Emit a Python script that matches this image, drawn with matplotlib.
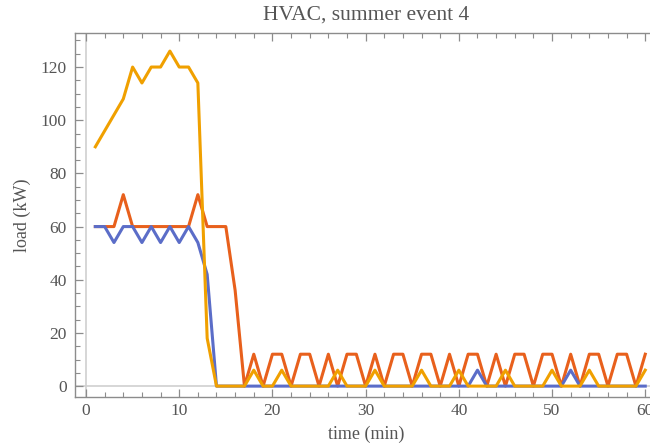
import numpy as np
import matplotlib
matplotlib.use('Agg')
import matplotlib.pyplot as plt
from matplotlib.ticker import MultipleLocator

# minutes 1..60
minutes = list(range(1, 61))

blue_kw = [60, 60, 54, 60, 60, 54, 60, 54, 60, 54, 60, 54, 42, 0, 0, 0, 0, 0, 0, 0,
           0, 0, 0, 0, 0, 0, 0, 0, 0, 0, 0, 0, 0, 0, 0, 0, 0, 0, 0, 0,
           0, 6, 0, 0, 0, 0, 0, 0, 0, 0, 0, 6, 0, 0, 0, 0, 0, 0, 0, 0]

red_kw = [60, 60, 60, 72, 60, 60, 60, 60, 60, 60, 60, 72, 60, 60, 60, 36, 0, 12, 0, 12,
          12, 0, 12, 12, 0, 12, 0, 12, 12, 0, 12, 0, 12, 12, 0, 12, 12, 0, 12, 0,
          12, 12, 0, 12, 0, 12, 12, 0, 12, 12, 0, 12, 0, 12, 12, 0, 12, 12, 0, 12]

orange_kw = [90, 96, 102, 108, 120, 114, 120, 120, 126, 120, 120, 114, 18, 0, 0, 0, 0, 6, 0, 0,
             6, 0, 0, 0, 0, 0, 6, 0, 0, 0, 6, 0, 0, 0, 0, 6, 0, 0, 0, 6,
             0, 0, 0, 0, 6, 0, 0, 0, 0, 6, 0, 0, 0, 6, 0, 0, 0, 0, 0, 6]

plt.rcParams['font.family'] = ['Liberation Serif', 'DejaVu Serif']

fig = plt.figure(figsize=(6.5, 4.43), dpi=100)
ax = fig.add_axes([0.1154, 0.1038, 0.8945, 0.8217])

frame_col = '#8c8c8c'
text_col = '#555555'

# Mathematica style axes lines through origin
ax.axhline(0, color='#d0d0d0', lw=1.2, zorder=1)
ax.axvline(0, color='#d0d0d0', lw=1.2, zorder=1)

ax.plot(minutes, red_kw, color='#e8601c', lw=2.2, zorder=3)
ax.plot(minutes, blue_kw, color='#5b6dc8', lw=2.2, zorder=4)
ax.plot(minutes, orange_kw, color='#f0a000', lw=2.2, zorder=5)

ax.set_xlim(-1.18, 61.2)
ax.set_ylim(-4.1, 132.8)

ax.xaxis.set_major_locator(MultipleLocator(10))
ax.xaxis.set_minor_locator(MultipleLocator(2))
ax.yaxis.set_major_locator(MultipleLocator(20))
ax.yaxis.set_minor_locator(MultipleLocator(5))

ax.tick_params(which='both', direction='in', top=True, right=False,
               color=frame_col, labelcolor=text_col, labelsize=12.5)
ax.tick_params(which='major', length=6, width=0.9)
ax.tick_params(which='minor', length=3.5, width=0.8)
ax.tick_params(axis='x', pad=4)
ax.tick_params(axis='y', pad=6)

for s in ax.spines.values():
    s.set_color(frame_col)
    s.set_linewidth(1.0)

ax.set_title('HVAC, summer event 4', color=text_col, fontsize=15.5, pad=10)
ax.set_xlabel('time (min)', color=text_col, fontsize=13, labelpad=5)
ax.set_ylabel('load (kW)', color=text_col, fontsize=13, labelpad=7)

fig.savefig('out.png', dpi=100)
